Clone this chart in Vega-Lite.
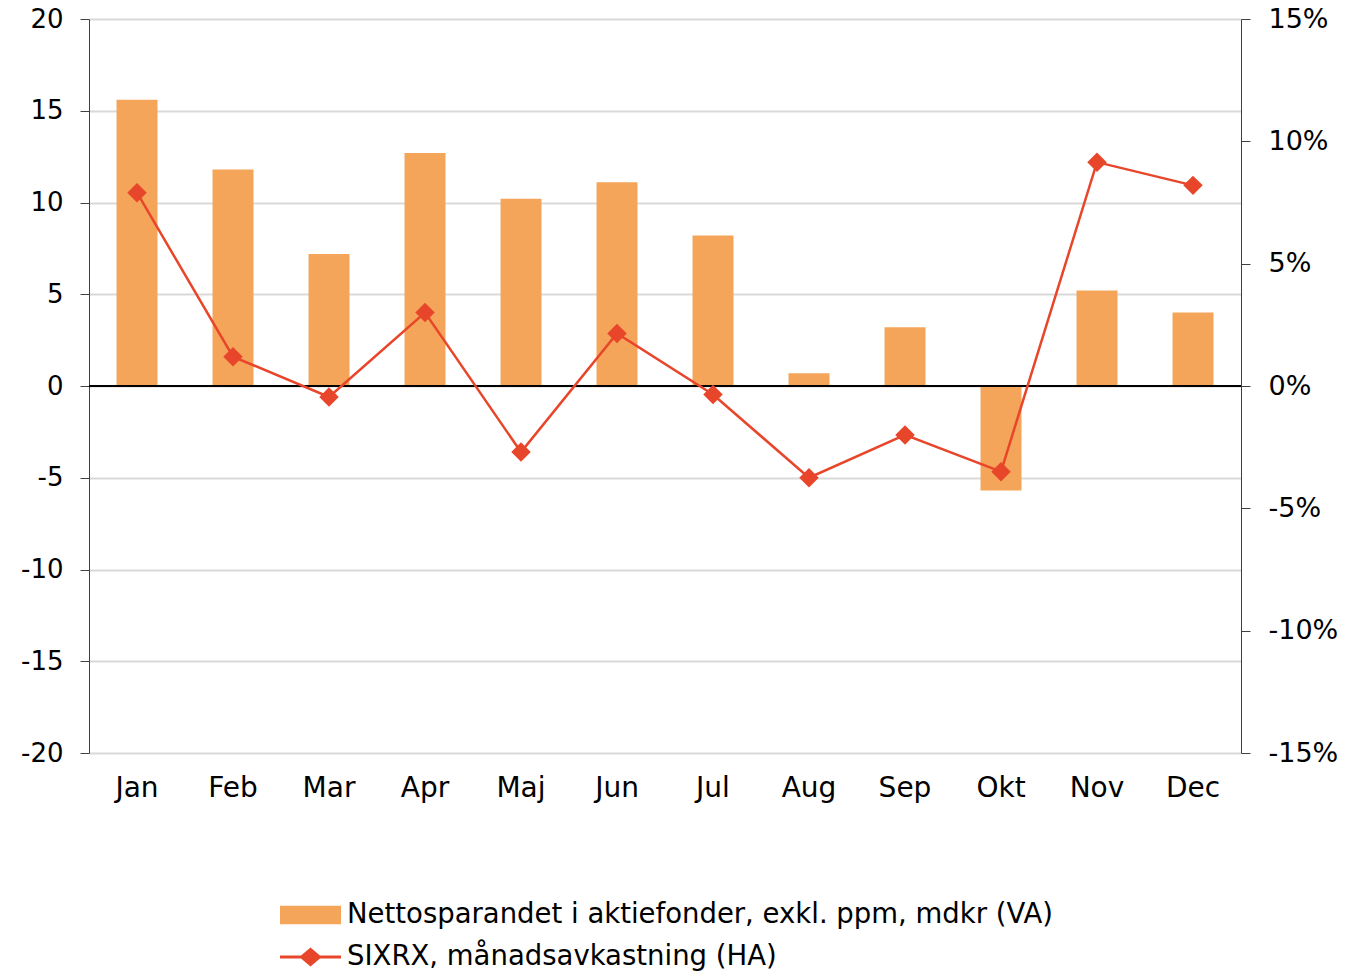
{
  "$schema": "https://vega.github.io/schema/vega-lite/v6.json",
  "autosize": {"type": "none"},
  "padding": {"left": 89, "top": 19, "right": 106, "bottom": 220},
  "width": 1152,
  "height": 734,
  "background": "white",
  "config": {
    "font": "DejaVu Sans",
    "view": {"stroke": null},
    "axis": {"labelFont": "DejaVu Sans", "labelFontSize": 26, "labelColor": "#000000"}
  },
  "data": {
    "values": [
      {"month": "Jan", "netto": 15.6, "sixrx": 7.9},
      {"month": "Feb", "netto": 11.8, "sixrx": 1.2},
      {"month": "Mar", "netto": 7.2, "sixrx": -0.45},
      {"month": "Apr", "netto": 12.7, "sixrx": 3.0},
      {"month": "Maj", "netto": 10.2, "sixrx": -2.7},
      {"month": "Jun", "netto": 11.1, "sixrx": 2.15},
      {"month": "Jul", "netto": 8.2, "sixrx": -0.35},
      {"month": "Aug", "netto": 0.7, "sixrx": -3.75},
      {"month": "Sep", "netto": 3.2, "sixrx": -2.0},
      {"month": "Okt", "netto": -5.7, "sixrx": -3.5},
      {"month": "Nov", "netto": 5.2, "sixrx": 9.15},
      {"month": "Dec", "netto": 4.0, "sixrx": 8.2}
    ]
  },
  "layer": [
    {
      "layer": [
        {
          "mark": {"type": "bar", "color": "#F5A55A"},
          "encoding": {
            "x": {
              "field": "month",
              "type": "nominal",
              "sort": null,
              "scale": {"paddingInner": 0.573, "paddingOuter": 0.2865},
              "axis": {"title": null, "domain": false, "ticks": false, "labelAngle": 0, "labelPadding": 21, "labelFontSize": 28, "grid": false}
            },
            "y": {
              "field": "netto",
              "type": "quantitative",
              "scale": {"domain": [-20, 20], "nice": false},
              "axis": {
                "title": null,
                "orient": "left",
                "values": [-20, -15, -10, -5, 0, 5, 10, 15, 20],
                "labelExpr": "'' + datum.value",
                "grid": true,
                "gridColor": "#D9D9D9",
                "gridWidth": 2,
                "domainColor": "#404040",
                "domainWidth": 1,
                "tickColor": "#404040",
                "tickSize": 9,
                "labelPadding": 17
              }
            },
            "color": {
              "datum": "Nettosparandet i aktiefonder, exkl. ppm, mdkr (VA)",
              "type": "nominal",
              "scale": {
                "domain": ["Nettosparandet i aktiefonder, exkl. ppm, mdkr (VA)", "SIXRX, månadsavkastning (HA)"],
                "range": ["#F5A55A", "#E8462A"]
              },
              "legend": {
                "title": null,
                "orient": "none",
                "legendX": 191,
                "legendY": 875,
                "direction": "vertical",
                "padding": 0,
                "labelFont": "DejaVu Sans",
                "labelFontSize": 27.5,
                "labelColor": "#000000",
                "labelOffset": 6,
                "labelLimit": 1000,
                "symbolSize": 3721,
                "clipHeight": 42,
                "rowPadding": 0,
                "encode": {
                  "symbols": {
                    "update": {
                      "shape": {"signal": "datum.value === 'SIXRX, månadsavkastning (HA)' ? 'M-1,-0.05H-0.31L0,-0.31L0.31,-0.05H1V0.05H0.31L0,0.31L-0.31,0.05H-1Z' : 'M-1,-0.3H1V0.3H-1Z'"},
                      "size": {"value": 3721},
                      "fill": {"signal": "datum.value === 'SIXRX, månadsavkastning (HA)' ? '#E8462A' : '#F5A55A'"},
                      "fillOpacity": {"value": 1},
                      "opacity": {"value": 1},
                      "strokeWidth": {"value": 0}
                    }
                  }
                }
              }
            }
          }
        },
        {
          "mark": {"type": "rule", "color": "#000000", "strokeWidth": 1},
          "encoding": {
            "y": {"datum": 0, "type": "quantitative"}
          }
        }
      ]
    },
    {
      "mark": {"type": "line", "color": "#E8462A", "strokeWidth": 2.5, "point": {"shape": "diamond", "size": 380, "filled": true, "color": "#E8462A", "opacity": 1}},
      "encoding": {
        "x": {"field": "month", "type": "nominal", "sort": null},
        "y": {
          "field": "sixrx",
          "type": "quantitative",
          "scale": {"domain": [-15, 15], "nice": false},
          "axis": {
            "title": null,
            "orient": "right",
            "values": [-15, -10, -5, 0, 5, 10, 15],
            "labelExpr": "datum.value + '%'",
            "labelFontSize": 27,
            "grid": false,
            "domainColor": "#404040",
            "domainWidth": 1,
            "tickColor": "#404040",
            "tickSize": 9,
            "labelPadding": 18
          }
        },
        "color": {"datum": "SIXRX, månadsavkastning (HA)", "type": "nominal"}
      }
    }
  ],
  "resolve": {"scale": {"y": "independent"}}
}
